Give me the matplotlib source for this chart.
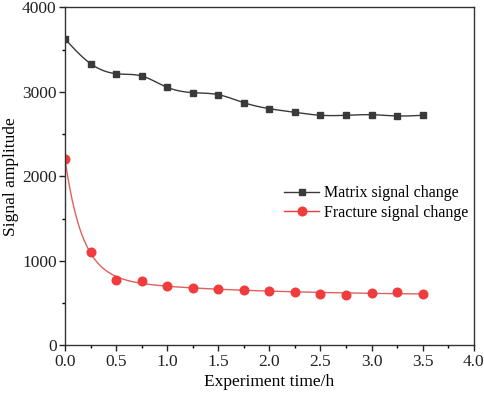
import numpy as np
import matplotlib
matplotlib.use("Agg")
import matplotlib.pyplot as plt
from matplotlib.ticker import MultipleLocator

time_h = [0.0, 0.25, 0.5, 0.75, 1.0, 1.25, 1.5, 1.75, 2.0, 2.25, 2.5, 2.75, 3.0, 3.25, 3.5]
matrix_signal = [3625, 3333, 3214, 3187, 3053, 2990, 2966, 2871, 2800, 2757, 2722, 2722, 2729, 2714, 2722]
fracture_signal = [2201, 1105, 777, 765, 698, 682, 662, 655, 646, 627, 611, 599, 619, 631, 611]

labels = ["Matrix signal change", "Fracture signal change"]


def natural_spline(x, y, xs):
    x = np.asarray(x, float); y = np.asarray(y, float)
    n = len(x)
    h = np.diff(x)
    A = np.zeros((n, n)); b = np.zeros(n)
    A[0, 0] = 1; A[-1, -1] = 1
    for i in range(1, n - 1):
        A[i, i - 1] = h[i - 1]
        A[i, i] = 2 * (h[i - 1] + h[i])
        A[i, i + 1] = h[i]
        b[i] = 3 * ((y[i + 1] - y[i]) / h[i] - (y[i] - y[i - 1]) / h[i - 1])
    c = np.linalg.solve(A, b)
    out = np.empty_like(xs)
    for k, t in enumerate(xs):
        i = min(max(np.searchsorted(x, t) - 1, 0), n - 2)
        dx = t - x[i]
        bi = (y[i + 1] - y[i]) / h[i] - h[i] * (2 * c[i] + c[i + 1]) / 3
        di = (c[i + 1] - c[i]) / (3 * h[i])
        out[k] = y[i] + bi * dx + c[i] * dx ** 2 + di * dx ** 3
    return out


def exp_fit(x, y, xs):
    x = np.asarray(x, float); y = np.asarray(y, float)
    best = None
    for t1 in np.linspace(0.05, 0.6, 56):
        for t2 in np.linspace(0.8, 8, 37):
            M = np.column_stack([np.ones_like(x), np.exp(-x / t1), np.exp(-x / t2)])
            coef, *_ = np.linalg.lstsq(M, y, rcond=None)
            r = np.sum((M @ coef - y) ** 2)
            if best is None or r < best[0]:
                best = (r, t1, t2, coef)
    _, t1, t2, coef = best
    return coef[0] + coef[1] * np.exp(-xs / t1) + coef[2] * np.exp(-xs / t2)


plt.rcParams['font.family'] = ['Liberation Serif', 'DejaVu Serif']

fig = plt.figure(figsize=(4.84, 3.94), dpi=100)
ax = fig.add_axes([0.1343, 0.1236, 0.8444, 0.8579])

xs = np.linspace(0, 3.5, 300)
black = '#3a3a3a'
red = '#f03c3c'
ax.plot(xs, natural_spline(time_h, matrix_signal, xs), color=black, lw=1.0)
ax.plot(xs, exp_fit(time_h, fracture_signal, xs), color='#e06060', lw=1.0)
ax.plot(time_h, matrix_signal, 's', color=black, ms=5, lw=0)
ax.plot(time_h, fracture_signal, 'o', color=red, ms=6.2, lw=0)

# legend handles
h1, = ax.plot([], [], '-s', color=black, ms=5, lw=1.0)
h2, = ax.plot([], [], '-o', color=red, ms=6.2, lw=1.0, markerfacecolor=red)
ax.legend([h1, h2], labels, loc='center left', bbox_to_anchor=(0.536, 0.421),
          frameon=False, fontsize=11.5, handlelength=2.2, handletextpad=0.3,
          labelspacing=0.2, borderaxespad=0, borderpad=0)

ax.set_xlim(0, 4.0)
ax.set_ylim(0, 4000)
ax.xaxis.set_major_locator(MultipleLocator(0.5))
ax.xaxis.set_minor_locator(MultipleLocator(0.25))
ax.yaxis.set_major_locator(MultipleLocator(1000))
ax.yaxis.set_minor_locator(MultipleLocator(500))
ax.tick_params(which='major', direction='out', length=4, width=1, pad=2,
               labelsize=12.5, colors='#222222')
ax.tick_params(which='minor', direction='out', length=2.5, width=1)
for s in ax.spines.values():
    s.set_linewidth(1.0)
    s.set_color('#333333')
ax.set_xlabel('Experiment time/h', fontsize=12.5, labelpad=3)
ax.set_ylabel('Signal amplitude', fontsize=12.5, labelpad=2)

fig.savefig('out.png', dpi=100)
